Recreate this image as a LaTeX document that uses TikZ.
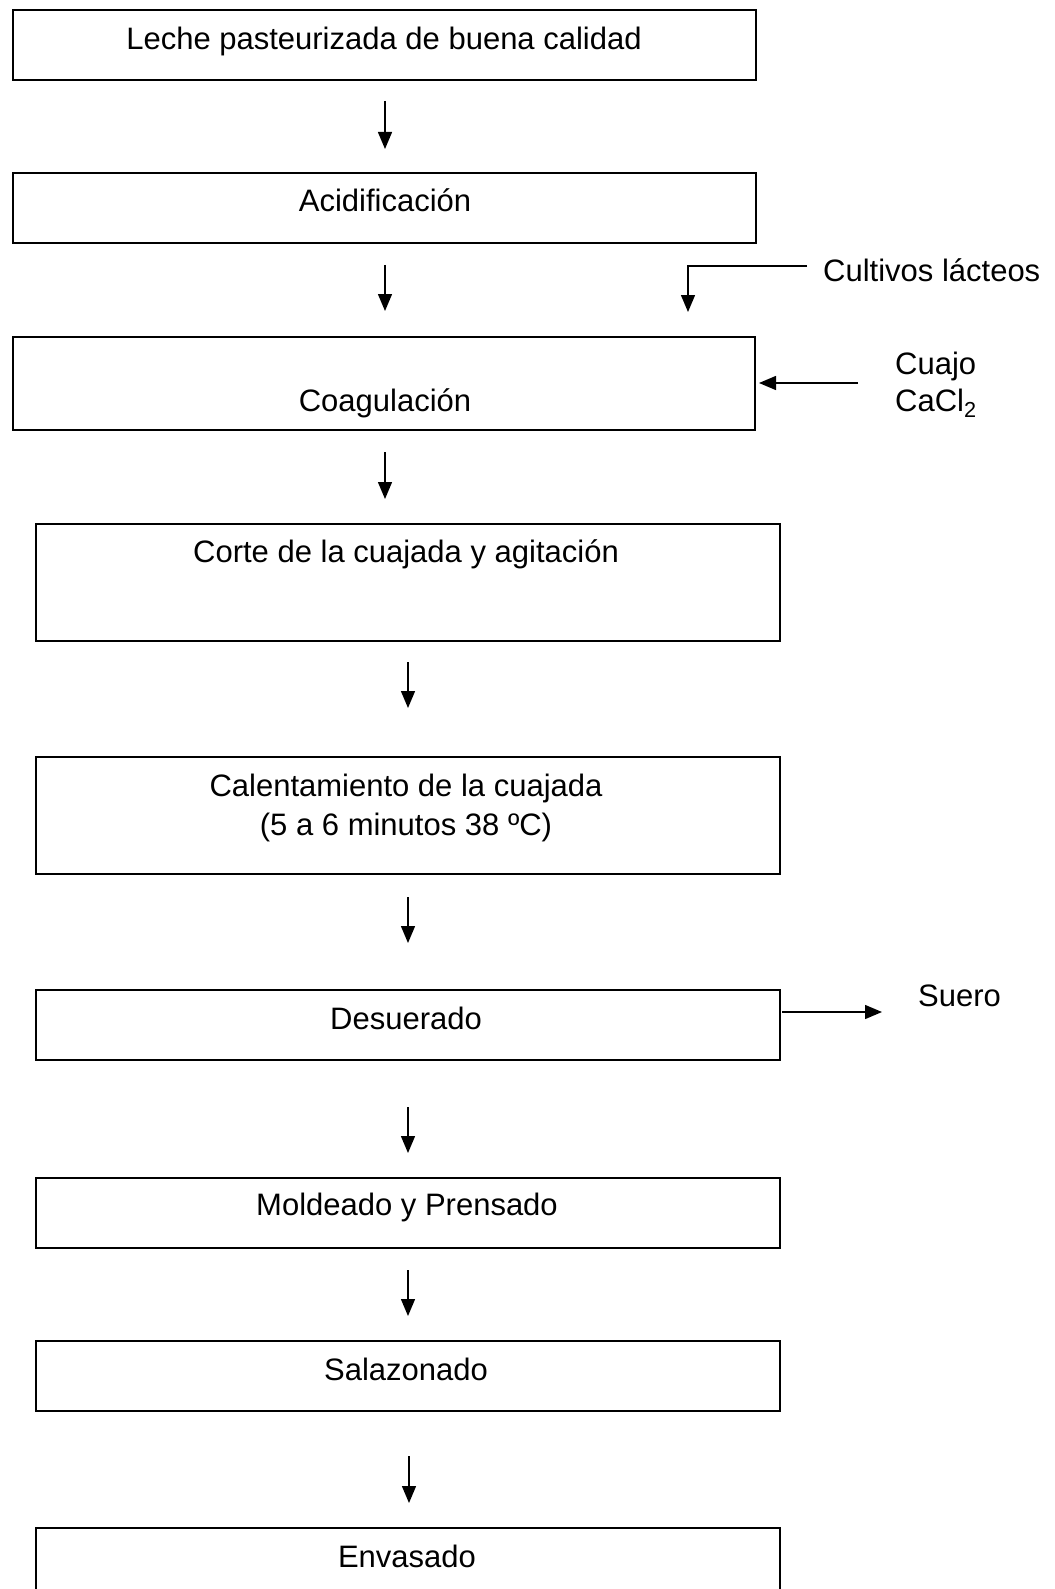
\documentclass[tikz,border=0pt]{standalone}
\usepackage{fontspec}
\setmainfont{Liberation Sans}
\usetikzlibrary{arrows.meta}
\tikzset{
  stepbox/.style={draw, rectangle, line width=1.9pt, inner sep=0pt, anchor=north west},
  lbl/.style={anchor=base, inner sep=0pt, font=\fontsize{31}{38}\selectfont},
  side/.style={anchor=base west, inner sep=0pt, font=\fontsize{31}{37}\selectfont},
  flow/.style={line width=1.4pt, -{Triangle[length=17pt,width=14pt]}},
}
\begin{document}
\begin{tikzpicture}[x=1pt,y=-1pt]
\useasboundingbox (0,0) rectangle (1054,1589);
\clip (0,0) rectangle (1054,1589);

% process boxes
\node[stepbox, minimum width=743pt, minimum height=70pt]  (leche)  at (12,9)    {};
\node[stepbox, minimum width=743pt, minimum height=70pt]  (acid)   at (12,172)  {};
\node[stepbox, minimum width=742pt, minimum height=93pt]  (coag)   at (12,336)  {};
\node[stepbox, minimum width=744pt, minimum height=117pt] (corte)  at (35,523)  {};
\node[stepbox, minimum width=744pt, minimum height=117pt] (calent) at (35,756)  {};
\node[stepbox, minimum width=744pt, minimum height=70pt]  (desu)   at (35,989)  {};
\node[stepbox, minimum width=744pt, minimum height=70pt]  (molde)  at (35,1177) {};
\node[stepbox, minimum width=744pt, minimum height=70pt]  (sala)   at (35,1340) {};
\node[stepbox, minimum width=744pt, minimum height=100pt] (envas)  at (35,1527) {};

% box texts
\node[lbl] (tleche)  at (384,50)   {Leche pasteurizada de buena calidad};
\node[lbl] (tacid)   at (385,212)  {Acidificación};
\node[lbl] (tcoag)   at (385,411)  {Coagulación};
\node[lbl] (tcorte)  at (406,562)  {Corte de la cuajada y agitación};
\node[lbl] (tcal1)   at (406,796)  {Calentamiento de la cuajada};
\node[lbl] (tcal2)   at (406,835)  {(5 a 6 minutos 38 ºC)};
\node[lbl] (tdesu)   at (406,1029) {Desuerado};
\node[lbl] (tmolde)  at (407,1215) {Moldeado y Prensado};
\node[lbl] (tsala)   at (406,1380) {Salazonado};
\node[lbl] (tenvas)  at (407,1567) {Envasado};

% side inputs and outputs
\node[side] (cult)  at (823,281)  {Cultivos lácteos};
\node[side] (cuajo) at (895,374)  {Cuajo};
\node[side] (cacl)  at (895,411)  {CaCl\textsubscript{2}};
\node[side] (suero) at (918,1006) {Suero};

% arrow end points
\coordinate (a1s) at (385,101);  \coordinate (a1e) at (385,149);
\coordinate (a2s) at (385,265);  \coordinate (a2e) at (385,311);
\coordinate (a3s) at (385,452);  \coordinate (a3e) at (385,499);
\coordinate (a4s) at (408,662);  \coordinate (a4e) at (408,708);
\coordinate (a5s) at (408,897);  \coordinate (a5e) at (408,943);
\coordinate (a6s) at (408,1107); \coordinate (a6e) at (408,1153);
\coordinate (a7s) at (408,1270); \coordinate (a7e) at (408,1316);
\coordinate (a8s) at (409,1456); \coordinate (a8e) at (409,1503);

\coordinate (cult1) at (807,266);
\coordinate (cult2) at (688,266);
\coordinate (cult3) at (688,312);
\coordinate (cuajos) at (858,383);
\coordinate (cuajoe) at (759,383);
\coordinate (sueros) at (782,1012);
\coordinate (sueroe) at (882,1012);

% main flow
\draw[flow] (a1s) -- (a1e);
\draw[flow] (a2s) -- (a2e);
\draw[flow] (a3s) -- (a3e);
\draw[flow] (a4s) -- (a4e);
\draw[flow] (a5s) -- (a5e);
\draw[flow] (a6s) -- (a6e);
\draw[flow] (a7s) -- (a7e);
\draw[flow] (a8s) -- (a8e);

% additions and by-product
\draw[flow] (cult1) -- (cult2) -- (cult3);
\draw[flow] (cuajos) -- (cuajoe);
\draw[flow] (sueros) -- (sueroe);
\end{tikzpicture}
\end{document}
